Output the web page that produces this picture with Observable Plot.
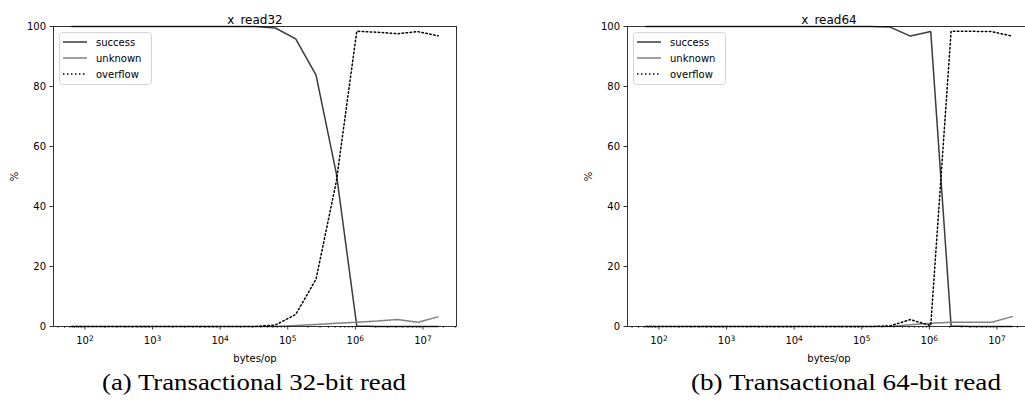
<!DOCTYPE html>
<html><head><meta charset="utf-8">
<script src="https://cdn.jsdelivr.net/npm/d3@7"></script>
<script src="https://cdn.jsdelivr.net/npm/@observablehq/plot@0.6"></script>
<style>
html,body{margin:0;padding:0;background:#fff;overflow:hidden;width:1025px;height:414px;}
#root{position:relative;width:1025px;height:414px;overflow:hidden;font-family:"DejaVu Sans",sans-serif;}
.panel{position:absolute;top:0;width:470px;}
.panel svg{max-width:none !important;width:470px !important;height:371px !important;}
.legend{position:absolute;}
.caption{position:absolute;top:367px;font-family:"Liberation Serif",serif;font-size:24px;line-height:30px;color:#000;white-space:nowrap;transform-origin:0 0;}
</style></head>
<body><div id="root"></div>
<script>
// ---- data ----
const bytesPerOp = [64,128,256,512,1024,2048,4096,8192,16384,32768,65536,131072,262144,524288,1048576,2097152,4194304,8388608,16777216];
const seriesNames = ["success","unknown","overflow"];
const read32Success  = [100,100,100,100,100,100,100,100,100,100,99.5,95.9,83.8,50.9,0.2,0,0,0,0];
const read32Unknown  = [0,0,0,0,0,0,0,0,0,0,0,0.35,0.7,1.05,1.4,1.8,2.3,1.4,3.2];
const read32Overflow = [0,0,0,0,0,0,0,0,0,0,0.5,4,15.8,48.5,98.4,98.1,97.6,98.3,96.9];
const read64Success  = [100,100,100,100,100,100,100,100,100,100,100,100,99.8,96.8,98.3,0.2,0,0,0];
const read64Unknown  = [0,0,0,0,0,0,0,0,0,0,0,0,0,0.6,1.1,1.4,1.4,1.4,3.3];
const read64Overflow = [0,0,0,0,0,0,0,0,0,0,0,0,0.2,2.3,0.3,98.4,98.4,98.3,96.8];
const titles = ["x_read32","x_read64"];
const captions = ["(a) Transactional 32-bit read","(b) Transactional 64-bit read"];
const yTicks = [0,20,40,60,80,100];
const xMajorTicks = [1e2,1e3,1e4,1e5,1e6,1e7];
const xMajorExponents = ["2","3","4","5","6","7"];

// ---- style / layout ----
const colors = {success:"#3b3b3b", unknown:"#808080", overflow:"#000000"};
const dashes = {success:null, unknown:null, overflow:"1.5,2.5"};
const xDomain = [Math.pow(10,1.535), Math.pow(10,7.496)];
const minorTicks = d3.scaleLog().domain(xDomain).ticks().filter(t => !xMajorTicks.includes(t));
const captionBox = [[102, 304], [691, 310]]; // left, width

function panel(title, vals) {
  const rows = [];
  seriesNames.forEach((k, j) => bytesPerOp.forEach((b, i) => rows.push({x:b, y:vals[j][i], k})));
  const lines = seriesNames.map(k => Plot.line(rows.filter(r => r.k === k), {
    x:"x", y:"y", stroke: colors[k], strokeWidth:1.5, strokeDasharray: dashes[k], strokeLinejoin:"miter"
  }));
  const svg = Plot.plot({
    width:470, height:371, marginLeft:53, marginRight:14, marginTop:26, marginBottom:45,
    x:{type:"log", domain:xDomain},
    y:{domain:[0,100]},
    style:{fontFamily:"DejaVu Sans", fontSize:"10px", color:"#000", background:"transparent", overflow:"visible"},
    marks:[
      Plot.axisX({ticks:minorTicks, tickSize:2, tickFormat:() => "", label:null, strokeWidth:0.6}),
      Plot.axisX({ticks:xMajorTicks, tickSize:3.5, tickPadding:7, strokeWidth:0.8,
        tickFormat:d => "10^" + xMajorExponents[xMajorTicks.indexOf(d)],
        label:"bytes/op", labelAnchor:"center", labelOffset:35, labelArrow:"none"}),
      Plot.axisY({ticks:yTicks, tickSize:3.5, tickPadding:4, strokeWidth:0.8,
        label:"%", labelAnchor:"center", labelOffset:43, labelArrow:"none"}),
      ...lines,
      Plot.frame({stroke:"#000", strokeWidth:0.8}),
      Plot.text([title], {frameAnchor:"top", dy:-11, fontSize:12})
    ]
  });
  // render "10^n" tick labels as mathtext-like superscripts
  svg.querySelectorAll("text").forEach(t => {
    const m = /^10\^(\d+)$/.exec(t.textContent);
    if (!m) return;
    t.textContent = "";
    const base = document.createElementNS("http://www.w3.org/2000/svg","tspan");
    base.textContent = "10";
    const sup = document.createElementNS("http://www.w3.org/2000/svg","tspan");
    sup.textContent = m[1];
    sup.setAttribute("dy","-0.45em");
    sup.setAttribute("font-size","7.5px");
    t.appendChild(base); t.appendChild(sup);
  });
  return svg;
}

function legend() {
  const svg = d3.create("svg").attr("width", 94).attr("height", 54);
  svg.append("rect").attr("x",0.5).attr("y",0.5).attr("width",92).attr("height",52)
    .attr("rx",3).attr("fill","rgba(255,255,255,0.8)").attr("stroke","#d4d4d4");
  seriesNames.forEach((k,i) => {
    const y = 10 + i*16;
    svg.append("line").attr("x1",4).attr("x2",28).attr("y1",y).attr("y2",y)
      .attr("stroke",colors[k]).attr("stroke-width",1.5).attr("stroke-dasharray",dashes[k]);
    svg.append("text").attr("x",37).attr("y",y).attr("dy","0.35em")
      .attr("font-family","DejaVu Sans").attr("font-size",10).text(k);
  });
  return svg.node();
}

const root = document.getElementById("root");
const panelData = [[read32Success, read32Unknown, read32Overflow],[read64Success, read64Unknown, read64Overflow]];
const panelLeft = [0, 574];
titles.forEach((t, i) => {
  const wrap = document.createElement("div");
  wrap.className = "panel";
  wrap.style.left = panelLeft[i] + "px";
  wrap.appendChild(panel(t, panelData[i]));
  root.appendChild(wrap);
  const lg = document.createElement("div");
  lg.className = "legend";
  lg.style.left = (panelLeft[i] + 59) + "px";
  lg.style.top = "32px";
  lg.appendChild(legend());
  root.appendChild(lg);
  const cap = document.createElement("span");
  cap.className = "caption";
  cap.style.left = captionBox[i][0] + "px";
  cap.textContent = captions[i];
  root.appendChild(cap);
  const w = cap.getBoundingClientRect().width;
  cap.style.transform = "scaleX(" + (captionBox[i][1] / w) + ")";
});
</script></body></html>
